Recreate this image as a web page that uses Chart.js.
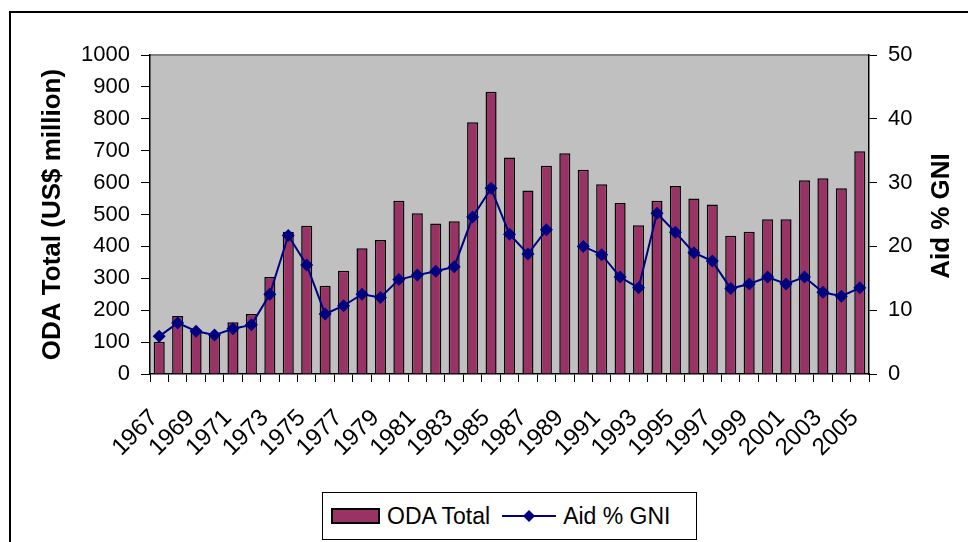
<!DOCTYPE html>
<html>
<head>
<meta charset="utf-8">
<script src="https://cdn.jsdelivr.net/npm/chart.js@4.4.1/dist/chart.umd.min.js"></script>
<style>
  html, body { margin:0; padding:0; background:#fff; }
  #wrap { position:relative; width:968px; height:542px; overflow:hidden; }
  #frame { position:absolute; left:9px; top:11px; width:1000px; height:600px; border-left:2px solid #000; border-top:2px solid #000; box-sizing:border-box; pointer-events:none; }
  #c { position:absolute; left:0; top:0; }
  #rtitle { position:absolute; left:940px; top:216px; transform:translate(-50%,-50%) rotate(-90deg); white-space:nowrap;
            font-family:'Liberation Sans', Arial, sans-serif; font-size:26px; font-weight:bold; color:#000; line-height:1; }
  #legend { position:absolute; left:322px; top:492px; width:375px; height:48px; box-sizing:border-box; border:1px solid #000; background:#fff;
            font-family:'Liberation Sans', Arial, sans-serif; font-size:23px; color:#000; display:flex; align-items:center; white-space:nowrap; }
  #legend .sw { display:inline-block; margin-left:8px; width:49px; height:16px; box-sizing:border-box; background:#993366; border:2px solid #000; }
</style>
</head>
<body>
<div id="wrap">
  <canvas id="c" width="968" height="542"></canvas>
  <div id="frame"></div>
  <div id="rtitle"></div>
  <div id="legend">
    <span class="sw"></span><span id="l1" style="margin-left:7px"></span>
    <svg width="54" height="16" style="margin-left:12px" viewBox="0 0 54 16"><line x1="0" y1="8" x2="54" y2="8" stroke="#000080" stroke-width="2"/><path d="M27 2 L33 8 L27 14 L21 8 Z" fill="#000080"/></svg>
    <span id="l2" style="margin-left:7px"></span>
  </div>
</div>
<script>
const years = [1967,1968,1969,1970,1971,1972,1973,1974,1975,1976,1977,1978,1979,1980,1981,1982,1983,1984,1985,1986,1987,1988,1989,1990,1991,1992,1993,1994,1995,1996,1997,1998,1999,2000,2001,2002,2003,2004,2005];
const odaTotal = [101,182,138,122,162,188,304,446,465,277,324,394,420,543,504,472,479,789,885,679,575,653,692,640,595,536,466,543,589,550,531,433,446,485,485,607,614,582,698];
const aidPctGni = [5.9,8.0,6.7,6.1,7.1,7.7,12.5,21.7,17.1,9.4,10.7,12.5,12.0,14.8,15.5,16.1,16.8,24.6,29.1,21.9,18.8,22.6,null,20.0,18.7,15.2,13.5,25.2,22.2,19.0,17.7,13.4,14.1,15.2,14.1,15.2,12.8,12.2,13.5];
const seriesNames = ['ODA Total', 'Aid % GNI'];
const axisTitles = ['ODA Total (US$ million)', 'Aid % GNI'];
const leftAxis = { min: 0, max: 1000, step: 100 };
const rightAxis = { min: 0, max: 50, step: 10 };

document.getElementById('l1').textContent = seriesNames[0];
document.getElementById('l2').textContent = seriesNames[1];
document.getElementById('rtitle').textContent = axisTitles[1];

const FONT = "'Liberation Sans', Arial, sans-serif";

const plotBg = {
  id: 'plotBg',
  beforeDraw(chart) {
    const {ctx, chartArea: a} = chart;
    ctx.save();
    ctx.fillStyle = '#C0C0C0';
    ctx.fillRect(a.left, a.top, a.right - a.left, a.bottom - a.top);
    ctx.strokeStyle = '#808080';
    ctx.lineWidth = 2;
    ctx.beginPath();
    ctx.moveTo(a.left, a.top);
    ctx.lineTo(a.right, a.top);
    ctx.stroke();
    ctx.restore();
  }
};

new Chart(document.getElementById('c'), {
  type: 'bar',
  data: {
    labels: years,
    datasets: [
      {
        type: 'line',
        label: seriesNames[1],
        data: aidPctGni,
        yAxisID: 'y1',
        borderColor: '#000080',
        backgroundColor: '#000080',
        borderWidth: 2,
        pointStyle: 'rectRot',
        pointRadius: 6.5,
        pointBorderWidth: 0,
        pointBackgroundColor: '#000080',
        spanGaps: false,
        tension: 0,
        order: 1
      },
      {
        label: seriesNames[0],
        data: odaTotal,
        yAxisID: 'y',
        backgroundColor: '#993366',
        borderColor: '#000000',
        borderWidth: 1.5,
        barPercentage: 0.6,
        categoryPercentage: 1.0,
        order: 2
      }
    ]
  },
  options: {
    responsive: false,
    animation: false,
    devicePixelRatio: 1,
    layout: { padding: { left: 0, right: 0, top: 55, bottom: 0 } },
    plugins: { legend: { display: false }, tooltip: { enabled: false } },
    scales: {
      x: {
        offset: true,
        grid: { drawOnChartArea: false, offset: true, tickLength: 8, tickColor: '#000', tickWidth: 1 },
        border: { color: '#000', width: 1.5 },
        ticks: {
          autoSkip: false, maxRotation: 45, minRotation: 45,
          color: '#000', font: { family: FONT, size: 24 }, padding: 22, labelOffset: -5,
          callback: (v, i) => (i % 2 === 0 ? String(years[i]) : '')
        },
        afterFit: s => { s.height = 168; }
      },
      y: {
        position: 'left',
        min: leftAxis.min, max: leftAxis.max,
        grid: { drawOnChartArea: false, tickLength: 9, tickColor: '#000', tickWidth: 1 },
        border: { color: '#000', width: 1.5 },
        ticks: { stepSize: leftAxis.step, color: '#000', font: { family: FONT, size: 22 }, padding: 11, callback: v => String(v) },
        title: { display: true, text: axisTitles[0], color: '#000', font: { family: FONT, size: 26, weight: 'bold' }, padding: { top: 37, bottom: 0 } },
        afterFit: s => { s.width = 150; }
      },
      y1: {
        position: 'right',
        min: rightAxis.min, max: rightAxis.max,
        grid: { drawOnChartArea: false, tickLength: 8, tickColor: '#000', tickWidth: 1 },
        border: { color: '#000', width: 1.5 },
        ticks: { stepSize: rightAxis.step, color: '#000', font: { family: FONT, size: 22 }, padding: 11, callback: v => String(v) },
        title: { display: false },
        afterFit: s => { s.width = 99; }
      }
    }
  },
  plugins: [plotBg]
});
</script>
</body>
</html>
